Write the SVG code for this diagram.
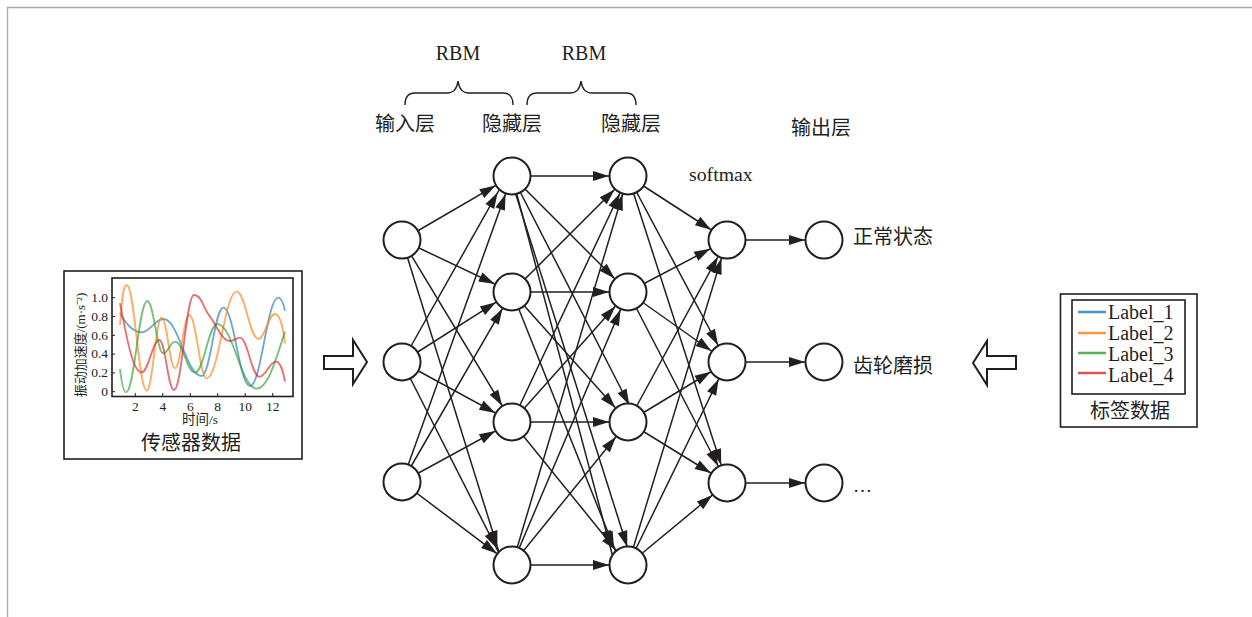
<svg xmlns="http://www.w3.org/2000/svg" width="1252" height="617" viewBox="0 0 1252 617">
<style>
text{font-family:"Liberation Serif","Noto Sans CJK SC",serif;fill:#231f20}
.n{fill:#fff;stroke:#231f20;stroke-width:2}
.c line{stroke:#231f20;stroke-width:1.500;marker-end:url(#ah)}
.box{fill:#fff;stroke:#231f20;stroke-width:1.600}
.l{font-size:20px}
.mid{text-anchor:middle}
.tk{font-size:13.500px}
.s{fill:none;stroke-width:5.500;stroke-opacity:.65;stroke-linejoin:round}
.hollow{fill:#fff;stroke:#231f20;stroke-width:2}
.brace{fill:none;stroke:#231f20;stroke-width:1.400}
.tick{stroke:#231f20;stroke-width:1}
</style>
<defs>
<marker id="ah" markerUnits="userSpaceOnUse" markerWidth="40" markerHeight="12" refX="0" refY="0" viewBox="-40 -6 40 12" orient="auto" overflow="visible"><path d="M-35 -5 L-19 0 L-35 5z" fill="#231f20"/></marker>
</defs>
<rect width="1252" height="617" fill="#fff"/>
<path d="M7.500 617V7.500H1252" fill="none" stroke="#aaa" stroke-width="1.300"/>
<g id="sensor-data">
<rect class="box" x="64" y="271" width="238" height="188"/>
<rect class="box" x="112" y="278" width="181" height="118.500"/>
<g transform="translate(100 270) scale(.3333)">
<path class="s" stroke="#1f77b4" d="M60 128C75 160 100 187 125 187C151 187 164 147 190 147C236 147 259 318 305 318C331 318 344 113 370 113C402 113 418 348 450 348C484 348 501 83 535 83C545 83 550 100 555 122"/>
<path class="s" stroke="#ff7f0e" d="M60 165C65 100 68 45 80 45C104 45 116 362 140 362C158 362 167 143 185 143C201 143 209 295 225 295C242 295 251 135 268 135C289 135 299 325 320 325C356 325 374 65 410 65C436 65 449 207 475 207C495 207 505 132 525 132C540 132 550 175 555 220"/>
<path class="s" stroke="#2ca02c" d="M60 297C65 340 70 367 78 367C104 367 116 93 142 93C161 93 171 250 190 250C204 250 211 215 225 215C249 215 261 308 285 308C312 308 325 162 352 162C399 162 423 356 470 356C505 356 530 260 555 185"/>
<path class="s" stroke="#d62728" d="M60 100C75 170 95 307 125 307C146 307 157 210 178 210C196 210 204 360 222 360C246 360 258 75 282 75C305 75 310 115 330 140C350 165 365 213 390 213C402 213 408 203 420 203C443 203 455 320 478 320C498 320 508 275 528 275C540 275 550 305 555 335"/>
</g>
<path class="tick" d="M135.300 396V393M162.800 396V393M190.300 396V393M217.700 396V393M245.200 396V393M272.700 396V393M112 391.700H115M112 372.900H115M112 354.100H115M112 335.300H115M112 316.500H115M112 297.700H115"/>
<g class="tk">
<text class="mid" x="135.300" y="411">2</text><text class="mid" x="162.800" y="411">4</text><text class="mid" x="190.300" y="411">6</text><text class="mid" x="217.700" y="411">8</text><text class="mid" x="245.200" y="411">10</text><text class="mid" x="272.700" y="411">12</text>
<text x="108" y="396" text-anchor="end">0</text><text x="108" y="377" text-anchor="end">0.2</text><text x="108" y="358" text-anchor="end">0.4</text><text x="108" y="340" text-anchor="end">0.6</text><text x="108" y="321" text-anchor="end">0.8</text><text x="108" y="302" text-anchor="end">1.0</text>
<text class="mid" x="200" y="424">时间/s</text>
<text class="mid" transform="translate(85 345) rotate(-90)" style="font-size:13px">振动加速度/(m·s⁻²)</text>
</g>
<text class="l mid" x="191" y="450">传感器数据</text>
</g>
<polygon id="arrow-in" class="hollow" points="324,356 353,356 353,340 367,362 353,384 353,369 324,369"/>
<polygon id="arrow-label" class="hollow" points="1016,356 987,356 987,341 973,363 987,385 987,369 1016,369"/>
<g id="labels-top">
<text class="mid" x="458" y="60" font-size="20">RBM</text>
<text class="mid" x="584" y="60" font-size="20">RBM</text>
<path class="brace" d="M405 105C405 97 409 93 415 93L447 93C453 93 457 89 458 81C459 89 463 93 469 93L503 93C509 93 513 97 513 105"/>
<path class="brace" d="M527 105C527 97 531 93 537 93L570 93C576 93 580 89 581 81C582 89 586 93 592 93L626 93C632 93 636 97 636 105"/>
<text class="l mid" x="405" y="131">输入层</text>
<text class="l mid" x="512" y="131">隐藏层</text>
<text class="l mid" x="631" y="131">隐藏层</text>
<text class="l mid" x="821" y="135">输出层</text>
<text x="689" y="181" font-size="19.800">softmax</text>
</g>
<g id="connectors" class="c">
<line x1="402" y1="240" x2="512" y2="176"/><line x1="402" y1="240" x2="512" y2="292"/><line x1="402" y1="240" x2="512" y2="422"/><line x1="402" y1="240" x2="503" y2="565"/>
<line x1="402" y1="362" x2="507" y2="176"/><line x1="402" y1="362" x2="512" y2="292"/><line x1="402" y1="362" x2="512" y2="422"/><line x1="402" y1="362" x2="505" y2="565"/>
<line x1="402" y1="482" x2="512" y2="176"/><line x1="402" y1="482" x2="512" y2="292"/><line x1="402" y1="482" x2="512" y2="422"/><line x1="402" y1="482" x2="512" y2="565"/>
<line x1="512" y1="176" x2="628" y2="176"/><line x1="512" y1="176" x2="628" y2="292"/><line x1="512" y1="176" x2="638" y2="422"/><line x1="512" y1="176" x2="615" y2="565"/><line x1="510" y1="176" x2="633" y2="565"/>
<line x1="512" y1="292" x2="628" y2="176"/><line x1="512" y1="292" x2="628" y2="292"/><line x1="512" y1="292" x2="628" y2="422"/><line x1="512" y1="292" x2="621" y2="565"/>
<line x1="512" y1="422" x2="628" y2="176"/><line x1="512" y1="422" x2="628" y2="292"/><line x1="512" y1="422" x2="628" y2="422"/><line x1="512" y1="422" x2="628" y2="565"/>
<line x1="512" y1="565" x2="628" y2="176"/><line x1="512" y1="565" x2="628" y2="292"/><line x1="512" y1="565" x2="628" y2="422"/><line x1="512" y1="565" x2="628" y2="565"/>
<line x1="628" y1="176" x2="727" y2="240"/><line x1="628" y1="176" x2="727" y2="362"/><line x1="628" y1="176" x2="727" y2="483"/>
<line x1="628" y1="292" x2="727" y2="240"/><line x1="628" y1="292" x2="727" y2="362"/><line x1="628" y1="292" x2="727" y2="483"/>
<line x1="628" y1="422" x2="727" y2="240"/><line x1="628" y1="422" x2="727" y2="362"/><line x1="628" y1="422" x2="727" y2="483"/>
<line x1="628" y1="565" x2="727" y2="240"/><line x1="628" y1="565" x2="727" y2="362"/><line x1="628" y1="565" x2="727" y2="483"/>
<line x1="727" y1="240" x2="824" y2="240"/><line x1="727" y1="362" x2="824" y2="362"/><line x1="727" y1="483" x2="824" y2="483"/>
</g>
<g id="i1"><circle class="n" cx="402" cy="240" r="18.500"/></g>
<g id="i2"><circle class="n" cx="402" cy="362" r="18.500"/></g>
<g id="i3"><circle class="n" cx="402" cy="482" r="18.500"/></g>
<g id="h1a"><circle class="n" cx="512" cy="176" r="18.500"/></g>
<g id="h1b"><circle class="n" cx="512" cy="292" r="18.500"/></g>
<g id="h1c"><circle class="n" cx="512" cy="422" r="18.500"/></g>
<g id="h1d"><circle class="n" cx="512" cy="565" r="18.500"/></g>
<g id="h2a"><circle class="n" cx="628" cy="176" r="18.500"/></g>
<g id="h2b"><circle class="n" cx="628" cy="292" r="18.500"/></g>
<g id="h2c"><circle class="n" cx="628" cy="422" r="18.500"/></g>
<g id="h2d"><circle class="n" cx="628" cy="565" r="18.500"/></g>
<g id="o1"><circle class="n" cx="727" cy="240" r="18.500"/></g>
<g id="o2"><circle class="n" cx="727" cy="362" r="18.500"/></g>
<g id="o3"><circle class="n" cx="727" cy="483" r="18.500"/></g>
<g id="r1"><circle class="n" cx="824" cy="240" r="18.500"/><text class="l" x="853" y="244">正常状态</text></g>
<g id="r2"><circle class="n" cx="824" cy="362" r="18.500"/><text class="l" x="853" y="373">齿轮磨损</text></g>
<g id="r3"><circle class="n" cx="824" cy="483" r="18.500"/><text x="853" y="492" font-size="19">…</text></g>
<g id="label-data">
<rect class="box" x="1060.500" y="294" width="136.500" height="133"/>
<rect class="box" x="1072" y="300" width="113" height="94"/>
<path d="M1078 312H1106" stroke="#1f77b4" stroke-width="2.500" stroke-opacity=".8"/>
<path d="M1078 333H1106" stroke="#ff7f0e" stroke-width="2.500" stroke-opacity=".8"/>
<path d="M1078 353H1106" stroke="#2ca02c" stroke-width="2.500" stroke-opacity=".8"/>
<path d="M1078 373H1106" stroke="#d62728" stroke-width="2.500" stroke-opacity=".8"/>
<text x="1108" y="319" font-size="20">Label_1</text>
<text x="1108" y="340" font-size="20">Label_2</text>
<text x="1108" y="361" font-size="20">Label_3</text>
<text x="1108" y="382" font-size="20">Label_4</text>
<text class="l mid" x="1130" y="418">标签数据</text>
</g>
</svg>
